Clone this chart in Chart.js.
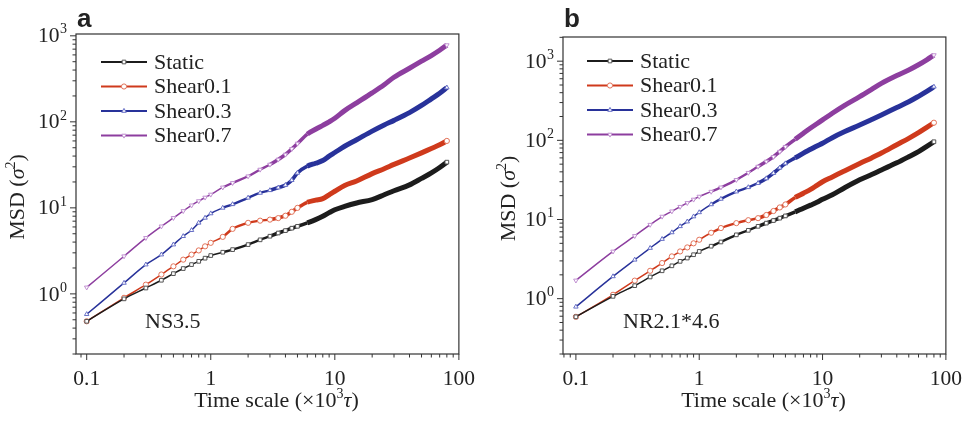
<!DOCTYPE html>
<html>
<head>
<meta charset="UTF-8" />
<title>MSD vs time scale</title>
<script src="https://cdn.jsdelivr.net/npm/chart.js@4/dist/chart.umd.min.js"></script>
<style>
  body { margin: 0; background: #fff; }
  .panel { position: absolute; top: 0; width: 487px; height: 421px; }
</style>
</head>
<body>
<div class="panel" style="left:0"><canvas id="chartA" width="487" height="421"></canvas></div>
<div class="panel" style="left:487px"><canvas id="chartB" width="487" height="421"></canvas></div>

<script>
// time scale (x10^3 tau), shared by every series
const timeScale = [0.1, 0.2, 0.3, 0.4, 0.5, 0.6, 0.7, 0.8, 0.9, 1, 1.25, 1.5, 2, 2.5, 3, 3.5, 4, 4.5, 5,
  6, 7, 8, 9, 10, 12, 15, 20, 25, 30, 40, 50, 60, 70, 80];
const seriesNames = ['Static', 'Shear0.1', 'Shear0.3', 'Shear0.7'];

// panel a : NS3.5
const staticA  = [0.48, 0.875, 1.17, 1.44, 1.72, 1.97, 2.19, 2.39, 2.6, 2.79, 3.05, 3.27, 3.74, 4.25, 4.68, 5.1, 5.44, 5.8, 6.1,
  6.7, 7.3, 8.0, 8.8, 9.5, 10.4, 11.4, 12.5, 14.2, 15.8, 18.5, 22, 25.5, 29.5, 34];
const shear01A = [0.48, 0.9, 1.28, 1.68, 2.09, 2.5, 2.86, 3.2, 3.57, 3.92, 4.6, 5.7, 6.7, 7.1, 7.3, 7.6, 8.1, 9.0, 10.0,
  11.6, 12.3, 12.8, 14.2, 15.6, 18.2, 20.5, 25, 28.5, 32, 38, 43.6, 49, 54, 60];
const shear03A = [0.58, 1.34, 2.19, 2.86, 3.74, 4.68, 5.5, 6.7, 7.65, 8.6, 10.0, 11.0, 13.1, 14.9, 16.0, 17.2, 18.4, 21.0, 25.5,
  30.5, 33, 35.5, 40, 44, 52, 62, 78, 92, 104, 128, 155, 185, 215, 250];
const shear07A = [1.19, 2.74, 4.48, 6.1, 7.65, 9.2, 10.7, 12.0, 13.2, 14.3, 17.3, 19.5, 23.3, 27.9, 31.9, 36.5, 41.7, 48.5, 56,
  72, 82, 91, 100, 110, 135, 166, 217, 270, 330, 420, 507, 590, 680, 780];

// panel b : NR2.1*4.6
const staticB  = [0.59, 1.07, 1.46, 1.88, 2.25, 2.6, 2.96, 3.26, 3.59, 3.95, 4.6, 5.2, 6.4, 7.3, 8.2, 9.0, 9.7, 10.4, 11.1,
  12.5, 13.9, 15.2, 16.5, 18, 20.5, 25, 31.7, 37, 42.3, 52, 62, 72, 84, 96];
const shear01B = [0.59, 1.12, 1.69, 2.25, 2.82, 3.42, 3.95, 4.44, 5.0, 5.55, 6.8, 7.8, 9.0, 9.8, 10.4, 11.4, 12.8, 14.2, 15.5,
  19, 21.5, 24, 27, 30, 34.5, 41, 51, 60, 69, 88, 106, 125, 146, 167];
const shear03B = [0.79, 1.91, 3.1, 4.36, 5.66, 6.86, 8.2, 9.4, 10.9, 12.3, 15.5, 18.2, 22.5, 25.5, 28.8, 33, 38.5, 45, 51,
  60, 69, 77, 85, 92, 108, 128, 156, 183, 209, 260, 307, 360, 415, 475];
const shear07B = [1.7, 3.95, 6.2, 8.6, 10.9, 12.7, 14.5, 16.2, 17.9, 19.5, 22.5, 25.5, 31.7, 39, 46.6, 54, 62, 72, 83,
  103, 123, 143, 162, 181, 220, 275, 356, 440, 525, 660, 773, 900, 1040, 1194];

const xTickValues = [0.1, 1, 10, 100];
const xTickLabels = ['0.1', '1', '10', '100'];
const yTickExponents = ['0', '1', '2', '3'];

const lineColors = ['#1c1c1c', '#cf3a1c', '#28329a', '#8d3e9f'];
const markColors = ['#555555', '#e2735a', '#6870c6', '#c191d1'];
const markStyles = ['rect', 'circle', 'triangle', 'triangle'];
const markRotation = [0, 0, 0, 180];

const SERIF = '"Liberation Serif", "Times New Roman", serif';

// thicker line where the original markers crowd together
function bandWidth(x) {
  if (x >= 6) return 5;
  if (x >= 3) return 3.6;
  if (x >= 1.25) return 2.4;
  return 1.5;
}

function makeDatasets(values) {
  return values.map((vals, i) => ({
    label: seriesNames[i],
    data: timeScale.map((t, j) => ({ x: t, y: vals[j] })),
    borderColor: lineColors[i],
    borderWidth: 1.5,
    pointStyle: markStyles[i],
    pointRotation: markRotation[i],
    // markers melt into the band at long times, only the last one shows
    pointRadius: c => (c.raw && c.raw.x >= 6 && c.dataIndex < timeScale.length - 1) ? 0 : 2.6,
    pointBorderWidth: 1,
    pointBorderColor: markColors[i],
    pointBackgroundColor: '#ffffff',
    segment: { borderWidth: c => bandWidth(c.p0.parsed.x) },
    cubicInterpolationMode: 'monotone'
  }));
}

// all tick positions: 1..9 times each power of ten
function logTicks(lo, hi) {
  const out = [];
  for (let e = -2; e <= 4; e++) {
    for (let m = 1; m <= 9; m++) {
      const v = m * Math.pow(10, e);
      if (v >= lo * 0.999 && v <= hi * 1.001) out.push(+v.toPrecision(3));
    }
  }
  return out;
}
const isMajor = v => Math.abs(Math.log10(v) - Math.round(Math.log10(v))) < 1e-6;

// draws text made of pieces (normal / italic / superscript), centred on 0,0
function drawRich(ctx, parts) {
  let w = 0;
  parts.forEach(p => { ctx.font = p.font; p.w = ctx.measureText(p.t).width; w += p.w; });
  let x = -w / 2;
  ctx.textAlign = 'left';
  ctx.textBaseline = 'alphabetic';
  parts.forEach(p => { ctx.font = p.font; ctx.fillText(p.t, x, p.dy || 0); x += p.w; });
}

const decoPlugin = {
  id: 'deco',
  afterDraw(chart, args, opts) {
    const ctx = chart.ctx;
    const a = chart.chartArea;
    const xs = chart.scales.x, ys = chart.scales.y;
    ctx.save();
    ctx.fillStyle = '#222';
    ctx.strokeStyle = '#333';

    // frame
    ctx.lineWidth = 1.2;
    ctx.strokeRect(a.left, a.top, a.right - a.left, a.bottom - a.top);

    // tick marks, outward on left and bottom
    ctx.lineWidth = 1;
    ctx.beginPath();
    ys.ticks.forEach(t => {
      const y = ys.getPixelForValue(t.value);
      if (y < a.top - 1 || y > a.bottom + 1) return;
      const len = isMajor(t.value) ? 6 : 3.5;
      ctx.moveTo(a.left - len, y); ctx.lineTo(a.left, y);
    });
    xs.ticks.forEach(t => {
      const x = xs.getPixelForValue(t.value);
      if (x < a.left - 1 || x > a.right + 1) return;
      const len = isMajor(t.value) ? 6 : 3.5;
      ctx.moveTo(x, a.bottom); ctx.lineTo(x, a.bottom + len);
    });
    ctx.stroke();

    // y tick labels 10^n
    ys.ticks.forEach(t => {
      if (!isMajor(t.value)) return;
      const y = ys.getPixelForValue(t.value);
      const ex = yTickExponents[Math.round(Math.log10(t.value))];
      const right = a.left - 9;
      ctx.textAlign = 'right';
      ctx.textBaseline = 'middle';
      ctx.font = '14px ' + SERIF;
      const ew = ctx.measureText(ex).width;
      ctx.fillText(ex, right, y - 6);
      ctx.font = '21.5px ' + SERIF;
      ctx.fillText('10', right - ew - 0.5, y + 1);
    });

    // axis titles
    ctx.save();
    ctx.translate(opts.yTitleX, (a.top + a.bottom) / 2 + 3);
    ctx.rotate(-Math.PI / 2);
    drawRich(ctx, [
      { t: 'MSD (', font: '22px ' + SERIF },
      { t: 'σ', font: 'italic 22px ' + SERIF },
      { t: '2', font: '14px ' + SERIF, dy: -9 },
      { t: ')', font: '22px ' + SERIF }
    ]);
    ctx.restore();
    ctx.save();
    ctx.translate((a.left + a.right) / 2 + 9, 407);
    drawRich(ctx, [
      { t: 'Time scale (×10', font: '22px ' + SERIF },
      { t: '3', font: '14px ' + SERIF, dy: -9 },
      { t: 'τ', font: 'italic 22px ' + SERIF },
      { t: ')', font: '22px ' + SERIF }
    ]);
    ctx.restore();

    // legend
    chart.data.datasets.forEach((ds, i) => {
      const y = opts.legendY + i * 24.5;
      ctx.strokeStyle = ds.borderColor;
      ctx.lineWidth = 2;
      ctx.beginPath();
      ctx.moveTo(opts.legendX, y); ctx.lineTo(opts.legendX + 46, y);
      ctx.stroke();
      ctx.fillStyle = '#ffffff';
      ctx.strokeStyle = ds.pointBorderColor;
      ctx.lineWidth = 1;
      Chart.helpers.drawPoint(ctx, { pointStyle: ds.pointStyle, rotation: ds.pointRotation, radius: 2.6, borderWidth: 1 },
        opts.legendX + 23, y);
      ctx.fillStyle = '#222';
      ctx.font = '22px ' + SERIF;
      ctx.textAlign = 'left';
      ctx.textBaseline = 'middle';
      ctx.fillText(ds.label, opts.legendX + 53, y + 1);
    });

    // sample note
    ctx.font = '22px ' + SERIF;
    ctx.textAlign = 'left';
    ctx.textBaseline = 'middle';
    ctx.fillText(opts.note, opts.noteX, 322);

    // panel letter
    ctx.font = 'bold 26px "Liberation Sans", Arial, sans-serif';
    ctx.textBaseline = 'alphabetic';
    ctx.fillText(opts.letter, a.left + 1, 27);
    ctx.restore();
  }
};

function makeChart(id, values, yMax, xMin, top, right, deco) {
  const yTicks = logTicks(0.2, yMax);
  const xTicks = logTicks(xMin, 100);
  return new Chart(document.getElementById(id), {
    type: 'line',
    data: { datasets: makeDatasets(values) },
    options: {
      responsive: false,
      animation: false,
      events: [],
      layout: { padding: { top: top, right: right, left: 0, bottom: 0 } },
      plugins: { legend: { display: false }, tooltip: { enabled: false }, deco: deco },
      scales: {
        x: {
          type: 'logarithmic',
          min: xMin, max: 100,
          afterBuildTicks: s => { s.ticks = xTicks.map(v => ({ value: v })); },
          afterFit: s => { s.height = 67; },
          grid: { display: false, drawTicks: false },
          border: { display: false },
          ticks: {
            autoSkip: false, maxRotation: 0, padding: 12, color: '#222',
            font: { family: SERIF, size: 21.5 },
            callback: v => {
              const k = xTickValues.findIndex(t => Math.abs(t - v) < 1e-9);
              return k >= 0 ? xTickLabels[k] : '';
            }
          }
        },
        y: {
          type: 'logarithmic',
          min: 0.2, max: yMax,
          afterBuildTicks: s => { s.ticks = yTicks.map(v => ({ value: v })); },
          afterFit: s => { s.width = 76; },
          grid: { display: false, drawTicks: false },
          border: { display: false },
          ticks: { display: false }
        }
      }
    },
    plugins: [decoPlugin]
  });
}

makeChart('chartA', [staticA, shear01A, shear03A, shear07A], 1050, 0.082, 34, 16,
  { letter: 'a', note: 'NS3.5', noteX: 145, legendX: 101, legendY: 62, yTitleX: 24 });
makeChart('chartB', [staticB, shear01B, shear03B, shear07B], 2020, 0.0786, 37, 17,
  { letter: 'b', note: 'NR2.1*4.6', noteX: 136, legendX: 100, legendY: 61, yTitleX: 28 });
</script>
</body>
</html>
